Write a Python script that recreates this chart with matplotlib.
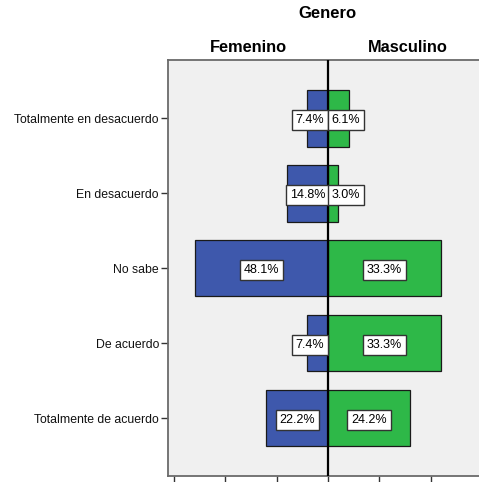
import matplotlib.pyplot as plt
import numpy as np

categories = ["Totalmente en desacuerdo", "En desacuerdo", "No sabe",
              "De acuerdo", "Totalmente de acuerdo"]
fem_counts = [2, 4, 13, 2, 6]
masc_counts = [2, 1, 11, 11, 8]
fem_pct = ["7.4%", "14.8%", "48.1%", "7.4%", "22.2%"]
masc_pct = ["6.1%", "3.0%", "33.3%", "33.3%", "24.2%"]

plt.rcParams['font.family'] = ['Liberation Sans', 'DejaVu Sans']

W, H = 479, 482
fig = plt.figure(figsize=(W / 100, H / 100), dpi=100)
# plot area runs past the right and bottom edge, as in the reference
x0, x1, y0, y1 = 168, 488, 60, 476
ax = fig.add_axes([x0 / W, 1 - y1 / H, (x1 - x0) / W, (y1 - y0) / H])
ax.set_facecolor('#f0f0f0')

y = np.arange(len(categories))
blue = '#3e58ac'
green = '#2eb848'
ax.barh(y, [-c for c in fem_counts], height=0.75, color=blue,
        edgecolor='#1a1a1a', linewidth=0.9, zorder=2)
ax.barh(y, masc_counts, height=0.75, color=green,
        edgecolor='#1a1a1a', linewidth=0.9, zorder=2)
ax.axvline(0, color='black', linewidth=1.6, zorder=3)

box = dict(boxstyle='square,pad=0.3', facecolor='white',
           edgecolor='#333333', linewidth=1.0)
for i in range(len(categories)):
    xf = -max(fem_counts[i] / 2, 1.75)
    xm = max(masc_counts[i] / 2, 1.75)
    ax.text(xf, y[i], fem_pct[i], ha='center', va='center_baseline',
            fontsize=9, bbox=box, zorder=4)
    ax.text(xm, y[i], masc_pct[i], ha='center', va='center_baseline',
            fontsize=9, bbox=box, zorder=4)

ax.set_xlim(-15.6, 15.6)
ax.set_ylim(len(categories) - 1 + 0.77, -0.78)
ax.set_yticks(y)
ax.set_yticklabels(categories, fontsize=8.8, color='#111111')
ax.set_xticks([-15, -10, -5, 0, 5, 10, 15])
ax.set_xticklabels([])
ax.tick_params(axis='y', length=5, width=1, color='#333333', pad=1.5)
ax.tick_params(axis='x', length=6, width=1, color='#333333')
for s in ax.spines.values():
    s.set_color('#6a6a6a')
    s.set_linewidth(1.3)

fig.text(327 / W, 1 - 13 / H, "Genero", ha='center', va='center',
         fontsize=12, fontweight='bold')
fig.text(248 / W, 1 - 47 / H, "Femenino", ha='center', va='center',
         fontsize=11.8, fontweight='bold')
fig.text(408 / W, 1 - 47 / H, "Masculino", ha='center', va='center',
         fontsize=11.8, fontweight='bold')

fig.savefig('out.png', dpi=100)
